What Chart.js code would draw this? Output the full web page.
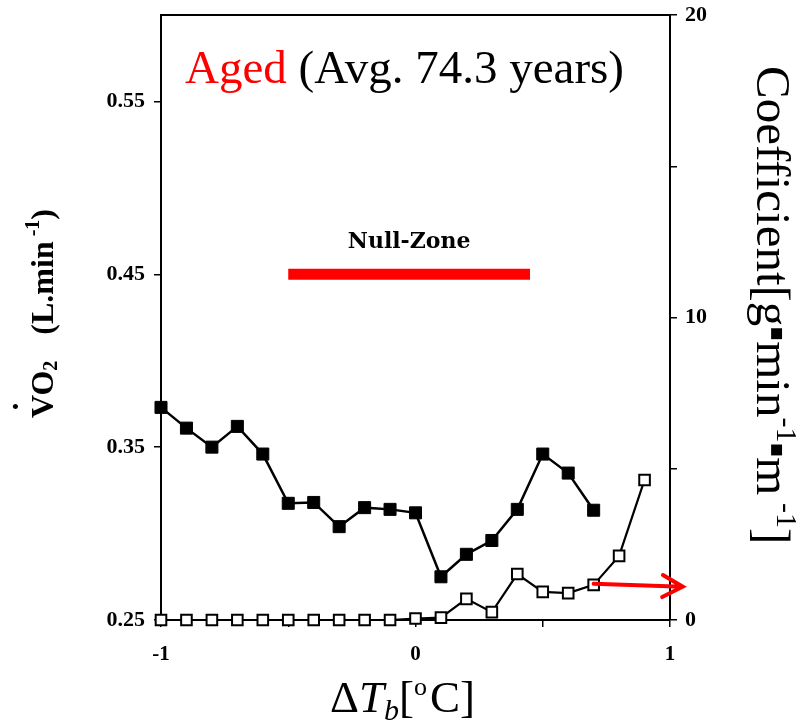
<!DOCTYPE html>
<html lang="en">
<head>
<meta charset="UTF-8" />
<title>VO2 and coefficient vs ΔTb (aged)</title>
<script src="https://cdn.jsdelivr.net/npm/chart.js"></script>
<style>
  html, body { margin: 0; padding: 0; background: #fff; }
  #wrap { width: 800px; height: 725px; }
</style>
</head>
<body>
<div id="wrap"><canvas id="chart" width="800" height="725"></canvas></div>
<script>
  // filled squares: VO2 (left axis)
  const vo2Temps = [-1, -0.9, -0.8, -0.7, -0.6, -0.5, -0.4, -0.3, -0.2, -0.1, 0, 0.1, 0.2, 0.3, 0.4, 0.5, 0.6, 0.7];
  const vo2Values = [0.373, 0.361, 0.350, 0.362, 0.346, 0.3175, 0.318, 0.304, 0.315, 0.314, 0.312, 0.275, 0.288, 0.296, 0.314, 0.346, 0.335, 0.3135];

  // open squares: coefficient (right axis)
  const coefTemps = [-1, -0.9, -0.8, -0.7, -0.6, -0.5, -0.4, -0.3, -0.2, -0.1, 0, 0.1, 0.2, 0.3, 0.4, 0.5, 0.6, 0.7, 0.8, 0.9];
  const coefValues = [0, 0, 0, 0, 0, 0, 0, 0, 0, 0, 0.05, 0.08, 0.7, 0.26, 1.52, 0.93, 0.89, 1.16, 2.12, 4.63];

  // null-zone bar and arrow (data units)
  const nullZoneRange = [-0.5, 0.45];
  const nullZoneLevel = 0.45;
  const arrowFrom = [0.7, 1.2];
  const arrowTo = [1.05, 1.1];

  const leftTicks = [0.25, 0.35, 0.45, 0.55];
  const rightTicks = [0, 5, 10, 15, 20];
  const rightLabels = ['0', '', '10', '', '20'];
  const bottomTicks = [-1, -0.5, 0, 0.5, 1];
  const bottomLabels = ['-1', '', '0', '', '1'];

  const SERIF = '"Liberation Serif", "Times New Roman", serif';

  function toPoints(xs, ys) {
    return xs.map((x, i) => ({ x: x, y: ys[i] }));
  }

  // draw a row of text pieces one after another
  function drawRuns(ctx, runs) {
    let x = 0;
    runs.forEach(r => {
      if (r.gap) { x += r.gap; return; }
      ctx.font = r.font;
      ctx.fillStyle = r.color || '#000';
      ctx.fillText(r.text, x, r.dy || 0);
      x += ctx.measureText(r.text).width;
    });
    return x;
  }

  // keep the plot box fixed, ignore label overflow padding
  function fixBox(s, w, h) {
    if (w !== null) s.width = w;
    if (h !== null) s.height = h;
    s.paddingTop = 0; s.paddingBottom = 0;
    s.paddingLeft = 0; s.paddingRight = 0;
  }

  const overlay = {
    id: 'overlay',
    afterDatasetsDraw(chart) {
      const ctx = chart.ctx;
      const xs = chart.scales.x, y1 = chart.scales.y1;
      const x0 = xs.getPixelForValue(arrowFrom[0]), yA = y1.getPixelForValue(arrowFrom[1]);
      const x1 = xs.getPixelForValue(arrowTo[0]), yB = y1.getPixelForValue(arrowTo[1]);
      const ang = Math.atan2(yB - yA, x1 - x0);
      ctx.save();
      ctx.strokeStyle = '#ff0000';
      ctx.lineWidth = 4;
      ctx.lineCap = 'round';
      ctx.beginPath();
      ctx.moveTo(x0, yA);
      ctx.lineTo(x1, yB);
      ctx.moveTo(x1 - 23 * Math.cos(ang - 0.5), yB - 23 * Math.sin(ang - 0.5));
      ctx.lineTo(x1, yB);
      ctx.lineTo(x1 - 23 * Math.cos(ang + 0.5), yB - 23 * Math.sin(ang + 0.5));
      ctx.stroke();
      ctx.restore();
    },
    afterDraw(chart) {
      const ctx = chart.ctx;
      const a = chart.chartArea;
      const xs = chart.scales.x, yl = chart.scales.y;
      ctx.save();
      ctx.textBaseline = 'alphabetic';
      ctx.textAlign = 'left';

      // title inside plot
      ctx.save();
      ctx.translate(a.left + 24, a.top + 68);
      drawRuns(ctx, [
        { text: 'Aged', font: '47px ' + SERIF, color: '#ff0000' },
        { text: ' (Avg. 74.3 years)', font: '47px ' + SERIF }
      ]);
      ctx.restore();

      // null-zone label
      ctx.font = 'bold 22px "DejaVu Serif", serif';
      ctx.fillStyle = '#000';
      ctx.textAlign = 'center';
      const nzMid = (nullZoneRange[0] + nullZoneRange[1]) / 2;
      ctx.fillText('Null-Zone', xs.getPixelForValue(nzMid), yl.getPixelForValue(nullZoneLevel) - 26);
      ctx.textAlign = 'left';

      // x axis title
      ctx.save();
      ctx.translate(330, 712);
      drawRuns(ctx, [
        { text: 'Δ', font: '45px ' + SERIF },
        { text: 'T', font: 'italic 45px ' + SERIF },
        { text: 'b', font: 'italic 30px ' + SERIF, dy: 8 },
        { text: '[', font: '45px ' + SERIF },
        { text: 'o', font: '26px ' + SERIF, dy: -17 },
        { gap: 3 },
        { text: 'C]', font: '45px ' + SERIF }
      ]);
      ctx.restore();

      // left axis title, reads bottom to top
      ctx.save();
      ctx.translate(53, 418);
      ctx.rotate(-Math.PI / 2);
      ctx.font = 'bold 32px ' + SERIF;
      const vw = ctx.measureText('V').width;
      ctx.fillText('.', vw / 2 - 4, -35);
      drawRuns(ctx, [
        { text: 'VO', font: 'bold 32px ' + SERIF },
        { text: '2', font: 'bold 20px ' + SERIF, dy: 4 },
        { gap: 26 },
        { text: '(L.min', font: 'bold 32px ' + SERIF },
        { text: ' -1', font: 'bold 20px ' + SERIF, dy: -14 },
        { text: ')', font: 'bold 32px ' + SERIF }
      ]);
      ctx.restore();

      // right axis title, reads top to bottom
      ctx.save();
      ctx.translate(757, 66);
      ctx.rotate(Math.PI / 2);
      drawRuns(ctx, [
        { text: 'Coefficient[g', font: '49px ' + SERIF },
        { text: '\u25AA', font: '22px "DejaVu Sans", sans-serif', dy: -14 },
        { text: 'min', font: '49px ' + SERIF },
        { text: '-1', font: '30px ' + SERIF, dy: -20 },
        { text: '\u25AA', font: '22px "DejaVu Sans", sans-serif', dy: -14 },
        { text: 'm', font: '49px ' + SERIF },
        { text: ' -1', font: '30px ' + SERIF, dy: -20 },
        { text: ']', font: '49px ' + SERIF }
      ]);
      ctx.restore();

      ctx.restore();
    }
  };

  const axisBase = {
    border: { display: true, color: '#000', width: 2 },
    grid: { drawOnChartArea: false, color: '#000', tickLength: 7, lineWidth: 1.5 }
  };

  new Chart(document.getElementById('chart'), {
    type: 'line',
    data: {
      datasets: [
        {
          label: 'Coefficient',
          data: toPoints(coefTemps, coefValues),
          yAxisID: 'y1',
          borderColor: '#000',
          borderWidth: 2.2,
          pointStyle: 'rect',
          pointRadius: 7.5,
          pointBorderWidth: 2,
          pointBackgroundColor: '#fff',
          pointBorderColor: '#000',
          clip: false
        },
        {
          label: 'VO2',
          data: toPoints(vo2Temps, vo2Values),
          yAxisID: 'y',
          borderColor: '#000',
          borderWidth: 2.5,
          pointStyle: 'rect',
          pointRadius: 8.5,
          pointBorderWidth: 1,
          pointBackgroundColor: '#000',
          pointBorderColor: '#000',
          clip: false
        },
        {
          label: 'Null-Zone',
          data: nullZoneRange.map(x => ({ x: x, y: nullZoneLevel })),
          yAxisID: 'y',
          borderColor: '#ff0000',
          borderWidth: 11,
          borderCapStyle: 'butt',
          pointRadius: 0
        }
      ]
    },
    options: {
      responsive: false,
      animation: false,
      devicePixelRatio: 1,
      layout: { padding: 0 },
      plugins: { legend: { display: false }, tooltip: { enabled: false } },
      elements: { line: { tension: 0 } },
      scales: {
        x: {
          ...axisBase,
          type: 'linear',
          position: 'bottom',
          min: -1, max: 1,
          afterBuildTicks: s => { s.ticks = bottomTicks.map(v => ({ value: v })); },
          afterFit: s => fixBox(s, null, 105),
          ticks: {
            color: '#000', padding: 15, maxRotation: 0, autoSkip: false,
            font: { family: SERIF, size: 21, weight: 'bold' },
            callback: (v, i) => bottomLabels[i]
          }
        },
        x2: {
          type: 'linear',
          position: 'top',
          min: -1, max: 1,
          border: { display: true, color: '#000', width: 2 },
          grid: { display: false },
          ticks: { display: false },
          afterFit: s => fixBox(s, null, 15)
        },
        y: {
          ...axisBase,
          type: 'linear',
          position: 'left',
          min: 0.25, max: 0.6,
          afterBuildTicks: s => { s.ticks = leftTicks.map(v => ({ value: v })); },
          afterFit: s => fixBox(s, 161, null),
          ticks: {
            color: '#000', padding: 9, autoSkip: false,
            font: { family: SERIF, size: 22, weight: 'bold' },
            callback: v => v.toFixed(2)
          }
        },
        y1: {
          ...axisBase,
          type: 'linear',
          position: 'right',
          min: 0, max: 20,
          afterBuildTicks: s => { s.ticks = rightTicks.map(v => ({ value: v })); },
          afterFit: s => fixBox(s, 130, null),
          ticks: {
            color: '#000', padding: 8, autoSkip: false,
            font: { family: SERIF, size: 22, weight: 'bold' },
            callback: (v, i) => rightLabels[i]
          }
        }
      }
    },
    plugins: [overlay]
  });
</script>
</body>
</html>
